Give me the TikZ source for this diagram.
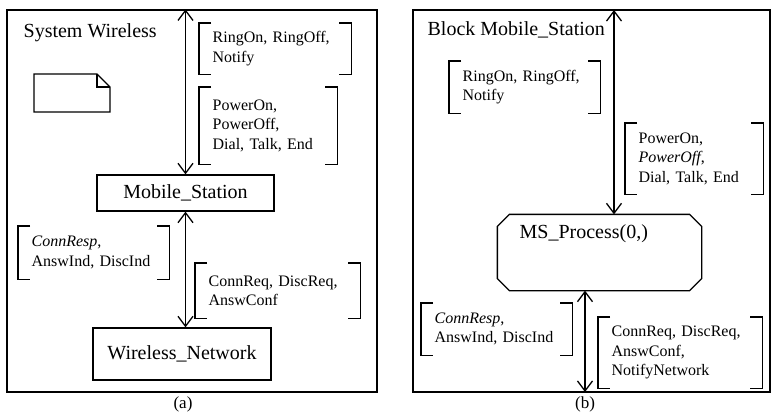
\documentclass[tikz,border=0pt]{standalone}
\usepackage{fontspec}
\setmainfont{Liberation Serif}
\usetikzlibrary{arrows.meta}

\begin{document}
\begin{tikzpicture}[x=1pt, y=-1pt, line width=1.3pt,
	frame/.style = {shape=rectangle, draw, inner sep=0pt},
	block/.style = {shape=rectangle, draw, align=center, inner sep=0pt, font=\fontsize{20}{24}\selectfont},
	process/.style = {shape=rectangle, inner sep=0pt},
	siglist/.style = {shape=rectangle, anchor=north west, align=left, inner xsep=13pt, inner ysep=0pt, font=\fontsize{16}{19.5}\selectfont},
	title/.style = {anchor=base west, inner sep=0pt, font=\fontsize{20}{24}\selectfont},
	caption/.style = {inner sep=0pt, font=\fontsize{17}{20}\selectfont},
	chan/.style = {{Straight Barb[length=10pt,width=15pt]}-{Straight Barb[length=10pt,width=15pt]}, line width=1.3pt}]
	\useasboundingbox (0,0) rectangle (772,413);
	% (a) system level
	\node[frame, minimum width=370, minimum height=382] (sysw) at (192,201) {};
	\node[title] (tsys) at (23,37) {System Wireless};
	\draw (34,74) -- (97,74) -- (110,87) -- (110,112) -- (34,112) -- cycle;
	\draw (97,74) -- (97,87) -- (110,87);
	\node[block, minimum width=177, minimum height=36] (ms) at (185.5,193) {Mobile\_Station};
	\node[block, minimum width=178, minimum height=52] (wn) at (182,354) {Wireless\_Network};
	\node[siglist, text width=125, minimum height=50] (ra) at (199,23) {RingOn, RingOff,\\ Notify};
	\node[siglist, text width=111, minimum height=76] (pa) at (199,87) {PowerOn,\\ PowerOff,\\ Dial, Talk, End};
	\node[siglist, text width=124, minimum height=52] (ca) at (18,226) {\textit{ConnResp},\\ AnswInd, DiscInd};
	\node[siglist, text width=138, minimum height=54] (qa) at (195,263) {ConnReq, DiscReq,\\ AnswConf};
	\draw[chan] (sysw.north -| ms.north) -- (ms.north);
	\draw[chan] (ms.south) -- (ms.south |- wn.north);
	\node[caption] (capa) at (183,404) {(a)};
	% (b) block level
	\node[frame, minimum width=357, minimum height=382] (sysb) at (591.5,201) {};
	\node[title] (tblk) at (427,35) {Block Mobile\_Station};
	\node[process, minimum width=203, minimum height=75] (proc) at (599.5,252.5) {};
	\draw ([xshift=12pt]proc.north west) -- ([xshift=-12pt]proc.north east)
		-- ([yshift=-12pt]proc.north east) -- ([yshift=12pt]proc.south east)
		-- ([xshift=-12pt]proc.south east) -- ([xshift=12pt]proc.south west)
		-- ([yshift=12pt]proc.south west) -- ([yshift=-12pt]proc.north west) -- cycle;
	\node[title] (plbl) at (519,238) {MS\_Process(0,)};
	\node[siglist, text width=124, minimum height=51] (rb) at (449,61) {RingOn, RingOff,\\ Notify};
	\node[siglist, text width=111, minimum height=70] (pb) at (625,123) {PowerOn,\\ \textit{PowerOff},\\ Dial, Talk, End};
	\node[siglist, text width=124, minimum height=51] (cb) at (421,303) {\textit{ConnResp},\\ AnswInd, DiscInd};
	\node[siglist, text width=137, minimum height=70] (qb) at (598,317) {ConnReq, DiscReq,\\ AnswConf,\\ NotifyNetwork};
	\coordinate (bup) at (614,10);
	\coordinate (bdn) at (585,392);
	\draw[chan] (bup) -- (bup |- proc.north);
	\draw[chan] (bdn |- proc.south) -- (bdn);
	\node[caption] (capb) at (585,404) {(b)};
	% brackets round the signal lists
	\foreach \s in {ra,pa,ca,qa,rb,pb,cb,qb} {
		\draw ([xshift=12pt]\s.north west) -| (\s.south west) -- ++(12pt,0);
		\draw ([xshift=-12pt]\s.north east) -| (\s.south east) -- ++(-12pt,0);
	}
\end{tikzpicture}
\end{document}
